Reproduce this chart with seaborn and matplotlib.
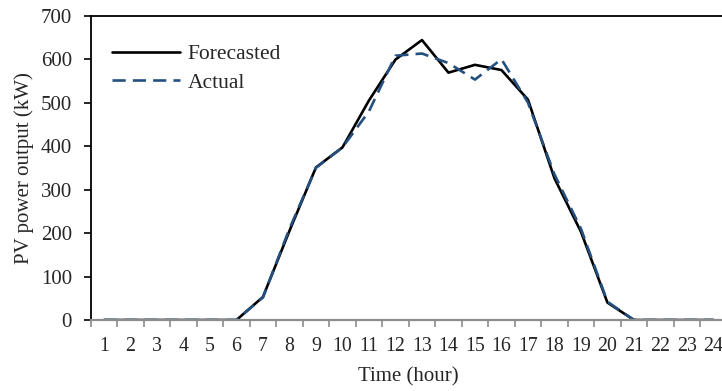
import matplotlib
matplotlib.use("Agg")
import matplotlib.pyplot as plt
import seaborn as sns
import pandas as pd
import numpy as np

hours = list(range(1, 25))
forecasted = [0, 0, 0, 0, 0, 0, 53, 205, 351, 397, 505, 599, 644, 569, 587, 575, 507, 326, 203, 40, 0, 0, 0, 0]
actual = [0, 0, 0, 0, 0, 0, 52, 210, 350, 397, 480, 608, 613, 591, 553, 600, 500, 335, 210, 42, 0, 0, 0, 0]
series_names = ["Forecasted", "Actual"]
y_ticks = [0, 100, 200, 300, 400, 500, 600, 700]

df = pd.DataFrame({
    "hour": hours * 2,
    "power": forecasted + actual,
    "series": [series_names[0]] * len(hours) + [series_names[1]] * len(hours),
})

sns.set_style("white")
plt.rcParams["font.family"] = ["Liberation Serif", "DejaVu Serif"]

FS = 15

fig = plt.figure(figsize=(7.22, 3.91), dpi=100)
ax = fig.add_axes([90.7 / 722, (391 - 320) / 391, 636 / 722, 304.3 / 391])

sns.lineplot(
    data=df, x="hour", y="power", hue="series", style="series",
    palette={"Forecasted": "black", "Actual": "#24507F"},
    dashes={"Forecasted": "", "Actual": (5, 2.7)},
    linewidth=1.9, ax=ax, sort=False,
)

ax.set_xlim(0.5, 24.5)
ax.set_ylim(0, 700)
ax.set_yticks(y_ticks)
ax.set_yticklabels([str(v) for v in y_ticks], fontsize=FS)

ax.set_xticks(np.arange(0.5, 25, 1))
ax.set_xticklabels([])
ax.set_xticks(hours, minor=True)
ax.set_xticklabels([str(h) for h in hours], minor=True, fontsize=14.3)
ax.tick_params(axis="x", which="major", direction="out", length=5, width=1.2, color="#8c8c8c", bottom=True)
ax.tick_params(axis="x", which="minor", length=0, pad=12.5, bottom=True)
ax.tick_params(axis="y", direction="out", length=5, width=1.2, color="black", left=True, pad=8.5)

for s in ["left", "top", "right"]:
    ax.spines[s].set_color("black")
    ax.spines[s].set_linewidth(1.3)
ax.spines["bottom"].set_color("#8c8c8c")
ax.spines["bottom"].set_linewidth(1.6)

ax.set_xlabel("Time (hour)", fontsize=FS, labelpad=8)
ax.set_ylabel("PV power output (kW)", fontsize=FS, labelpad=5)

leg = ax.legend(loc="upper left", frameon=False, fontsize=15.5, handlelength=3.15,
                handletextpad=0.37, bbox_to_anchor=(0.02, 0.935), borderaxespad=0,
                labelspacing=0.4)

fig.savefig("out.png", dpi=100)
